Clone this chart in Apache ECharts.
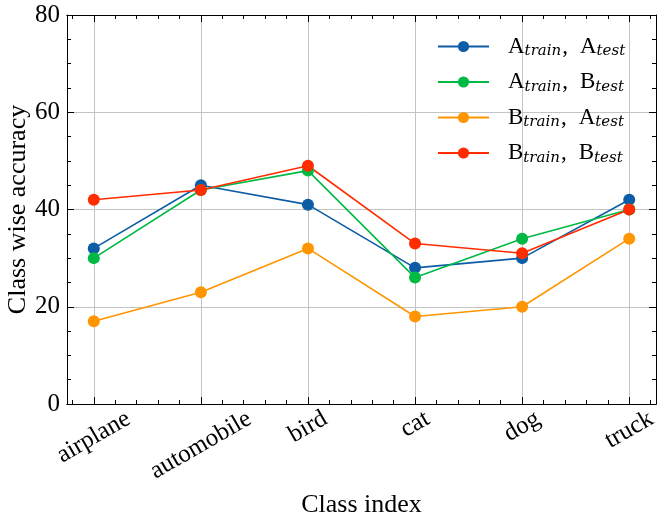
<!DOCTYPE html>
<html><head><meta charset="utf-8">
<script src="https://cdn.jsdelivr.net/npm/echarts@6/dist/echarts.min.js"></script>
<style>html,body{margin:0;padding:0;background:#fff}#c{width:665px;height:524px}</style>
</head><body><div id="c"></div>
<script>
const categories = ['airplane','automobile','bird','cat','dog','truck'];
const seriesNames = ['AA','AB','BA','BB'];
const aTrainATest = [32, 45, 41, 28, 30, 42];
const aTrainBTest = [30, 44, 48, 26, 34, 40];
const bTrainATest = [17, 23, 32, 18, 20, 34];
const bTrainBTest = [42, 44, 49, 33, 31, 40];
const xMajor = [0, 1, 2, 3, 4, 5];
const xMinor = [-0.2,0.2,0.4,0.6,0.8,1.2,1.4,1.6,1.8,2.2,2.4,2.6,2.8,3.2,3.4,3.6,3.8,4.2,4.4,4.6,4.8,5.2];

const FONT = 'Liberation Serif';
const SUBFONT = 'DejaVu Serif';
const TICKSIZE = 25;
const colors = ['#0C5DA5','#00B945','#FF9500','#FF2C00'];
const legendLabels = {
  AA: '{m|A}{s|train}{c|,}{m|A}{s|test}',
  AB: '{m|A}{s|train}{c|,}{m|B}{s|test}',
  BA: '{m|B}{s|train}{c|,}{m|A}{s|test}',
  BB: '{m|B}{s|train}{c|,}{m|B}{s|test}'
};
const values = [aTrainATest, aTrainBTest, bTrainATest, bTrainBTest];

// rotated labels centred under their ticks (matplotlib ha='center', rotation=30)
const ctx = document.createElement('canvas').getContext('2d');
ctx.font = TICKSIZE + 'px "' + FONT + '"';
const labelRich = {};
categories.forEach((c, i) => {
  const w = ctx.measureText(c).width;
  const D = 13 + 0.25 * w;
  labelRich['c' + i] = {fontFamily:FONT, fontSize:TICKSIZE, color:'#000',
    padding:[1.732 * D, D, 0, 0]};
});

const chart = echarts.init(document.getElementById('c'), null, {renderer:'canvas'});
const axisLine = {show:true, onZero:false, lineStyle:{color:'#000', width:1}};
const gridLine = {show:true, lineStyle:{color:'#c4c4c4', width:1, type:'solid'}};
function xAx(pos, major, labels) {
  return {
    type:'value', position:pos, min:-0.25, max:5.25,
    axisLine: axisLine,
    axisTick:{show:true, inside:true, length: major?7:4, customValues: major?xMajor:xMinor, lineStyle:{color:'#000'}},
    axisLabel: labels ? {show:true, customValues:xMajor, rotate:30, align:'center', verticalAlign:'middle',
      formatter:v=>{const i=Math.round(v); return '{c'+i+'|'+categories[i]+'}';},
      rich:labelRich, margin:0, hideOverlap:false} : {show:false},
    splitLine: labels ? Object.assign({customValues:xMajor}, gridLine) : {show:false},
    name: labels ? 'Class index' : '', nameLocation:'middle', nameGap:88, nameMoveOverlap:false,
    nameTextStyle:{fontFamily:FONT, fontSize:26, color:'#000'}
  };
}
function yAx(pos, labels) {
  return {
    type:'value', position:pos, min:0, max:80, interval:20,
    axisLine: axisLine,
    axisTick:{show:true, inside:true, length:7, lineStyle:{color:'#000'}},
    minorTick:{show:true, splitNumber:4, length:4, lineStyle:{color:'#000'}},
    axisLabel: labels ? {show:true, fontFamily:FONT, fontSize:TICKSIZE, color:'#000', margin:7} : {show:false},
    splitLine: labels ? gridLine : {show:false},
    name: labels ? 'Class wise accuracy' : '', nameLocation:'middle', nameGap:36, nameMoveOverlap:false,
    nameTextStyle:{fontFamily:FONT, fontSize:26, color:'#000'}
  };
}
chart.setOption({
  animation:false,
  backgroundColor:'#fff',
  grid:{left:67, right:9, top:15, bottom:120, containLabel:false, outerBoundsMode:'none'},
  xAxis:[xAx('bottom',true,true), xAx('bottom',false,false), xAx('top',true,false), xAx('top',false,false)],
  yAxis:[yAx('left',true), yAx('right',false)],
  legend:{
    orient:'vertical', left:432, top:29, itemWidth:51, itemHeight:14, itemGap:10.5,
    data: seriesNames,
    formatter: n => legendLabels[n],
    textStyle:{padding:[0,0,0,14], rich:{
      m:{fontFamily:FONT, fontSize:23, color:'#000', lineHeight:26},
      c:{fontFamily:FONT, fontSize:23, color:'#000', lineHeight:26, padding:[0,12,0,1]},
      s:{fontFamily:SUBFONT, fontSize:15, fontStyle:'italic', color:'#000', padding:[10,0,0,0], lineHeight:26}
    }}
  },
  series: seriesNames.map((n,k)=>({
    name:n, type:'line', xAxisIndex:0, yAxisIndex:0,
    data: values[k].map((v,i)=>[i,v]),
    symbol:'circle', symbolSize:12, color:colors[k],
    lineStyle:{width:1.6, color:colors[k]}, itemStyle:{color:colors[k]}
  }))
});
</script></body></html>
